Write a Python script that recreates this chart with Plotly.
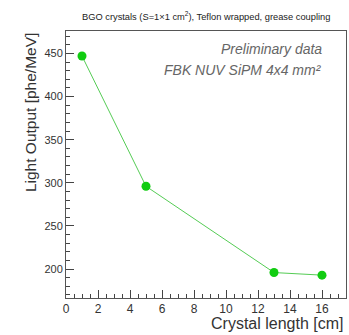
import plotly.graph_objects as go

crystal_length = [1, 5, 13, 16]
light_output = [447, 296, 196, 193]
x_ticks = [0, 2, 4, 6, 8, 10, 12, 14, 16]
y_ticks = [200, 250, 300, 350, 400, 450]

fig = go.Figure()
fig.add_trace(go.Scatter(
    x=crystal_length, y=light_output, mode="lines+markers",
    line=dict(color="#55cc55", width=1),
    marker=dict(color="#11cc11", size=9),
    showlegend=False,
))

font_main = "Liberation Sans, Arial, sans-serif"
L, R, T, B = 66, 346.5, 30.5, 298.3
W, H = R - L, B - T


def px(x):
    return (x - L) / W


def py(y):
    return 1 - (y - T) / H


tick_col = "#444444"
fig.update_layout(
    width=349, height=335,
    margin=dict(l=L, r=349 - R, t=T, b=335 - B),
    paper_bgcolor="white", plot_bgcolor="white",
    font=dict(family=font_main, color="#333333"),
    xaxis=dict(
        range=[0, 17.5], tickmode="array", tickvals=x_ticks,
        ticktext=[str(v) for v in x_ticks],
        ticks="inside", ticklen=8, tickcolor=tick_col, tickwidth=1,
        minor=dict(tickmode="linear", dtick=0.5, tick0=0, ticks="inside",
                   ticklen=4, tickcolor=tick_col, tickwidth=1),
        showgrid=False, zeroline=False, showline=True, linecolor="#555555",
        linewidth=1, mirror=True, tickfont=dict(size=12, color="#333333"),
    ),
    yaxis=dict(
        range=[166.5, 476], tickmode="array", tickvals=y_ticks,
        ticktext=[str(v) for v in y_ticks],
        ticks="inside", ticklen=8, tickcolor=tick_col, tickwidth=1,
        minor=dict(tickmode="linear", dtick=10, tick0=0, ticks="inside",
                   ticklen=4, tickcolor=tick_col, tickwidth=1),
        showgrid=False, zeroline=False, showline=True, linecolor="#555555",
        linewidth=1, mirror=True, tickfont=dict(size=11, color="#333333"),
    ),
    annotations=[
        dict(text="BGO crystals (S=1×1 cm<sup>2</sup>), Teflon wrapped, grease coupling",
             xref="paper", yref="paper", x=px(206), y=py(15),
             xanchor="center", yanchor="middle",
             showarrow=False, font=dict(size=9.3, color="#222222")),
        dict(text="<i>Preliminary data</i>", xref="paper", yref="paper",
             x=px(324), y=py(49),
             xanchor="right", yanchor="middle", showarrow=False,
             font=dict(size=14, color="#666666")),
        dict(text="<i>FBK NUV SiPM 4x4 mm²</i>", xref="paper", yref="paper",
             x=px(324), y=py(70),
             xanchor="right", yanchor="middle", showarrow=False,
             font=dict(size=14, color="#666666")),
        dict(text="Crystal length [cm]", xref="paper", yref="paper",
             x=px(345), y=py(324),
             xanchor="right", yanchor="middle", showarrow=False,
             font=dict(size=16, color="#333333")),
        dict(text="Light Output [phe/MeV]", xref="paper", yref="paper",
             x=px(31), y=py(31), textangle=-90,
             xanchor="center", yanchor="top", showarrow=False,
             font=dict(size=15.5, color="#333333")),
    ],
)

fig.write_html("out.html")
